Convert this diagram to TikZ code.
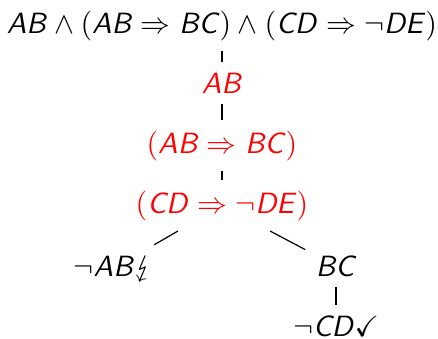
\documentclass[tikz,border=0pt]{standalone}
\usepackage{amsmath,amssymb}
\usepackage{stmaryrd}
\usepackage{tikz}
\usetikzlibrary{calc}
\definecolor{ink}{HTML}{000000}
\definecolor{hot}{HTML}{FF0000}
\newcommand{\fv}[1]{\textsf{\slshape #1\/}}
\tikzset{
  frm/.style={anchor=base, text=ink, font=\fontsize{9.8}{12}\selectfont},
  used/.style={frm, text=hot},
  edge/.style={draw=ink, line width=0.4pt},
}

\begin{document}
\begin{tikzpicture}[x=1cm,y=1cm]
    \useasboundingbox (0,0) rectangle (5.15,3.975);
    \node[frm] (top) at (2.61,3.587) {$\fv{AB}\land(\fv{AB}\Rightarrow\fv{BC})\land(\fv{CD}\Rightarrow\neg\fv{DE})$};
    \node[used] (ab) at (2.61,2.881) {$\fv{AB}$};
    \node[used] (abbc) at (2.61,2.176) {$(\fv{AB}\Rightarrow\fv{BC})$};
    \node[used] (cdde) at (2.61,1.470) {$(\fv{CD}\Rightarrow\neg\fv{DE})$};
    \node[frm] (nab) at (1.33,0.729) {$\neg\fv{AB}\lightning$};
    \node[frm] (bc) at (3.951,0.729) {$\fv{BC}$};
    \node[frm] (ncd) at (3.951,0.024) {$\neg\fv{CD}\checkmark$};
    % closing and open branch
    \draw[edge] (top) -- (ab);
    \draw[edge] (ab) -- (abbc);
    \draw[edge] (abbc) -- (cdde);
    \draw[edge] (cdde) -- (nab);
    \draw[edge] (cdde) -- (bc);
    \draw[edge] (bc) -- (ncd);
  \end{tikzpicture}
\end{document}
